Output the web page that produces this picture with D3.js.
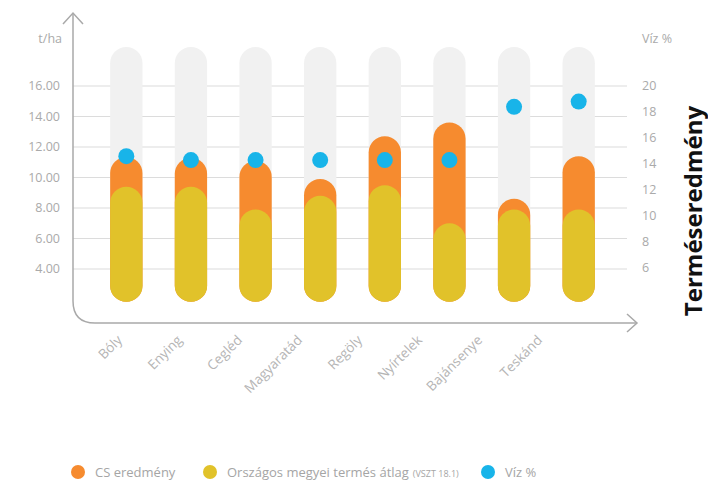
<!DOCTYPE html>
<html>
<head>
<meta charset="utf-8">
<script src="https://cdn.jsdelivr.net/npm/d3@7"></script>
<style>
  body { margin: 0; background: #fff; }
  svg { font-family: "Open Sans", sans-serif; }
  .tick-label { fill: #aaa; font-size: 12.5px; }
  .cat-label { fill: #b5b5b5; font-size: 13.5px; }
  .legend-label { fill: #a5a5a5; font-size: 13px; }
</style>
</head>
<body>
<svg id="chart" width="708" height="480"></svg>
<script>
const categories = ["Bóly", "Enying", "Cegléd", "Magyaratád", "Regöly", "Nyírtelek", "Bajánsenye", "Teskánd"];
const csResult = [11.35, 11.3, 11.1, 9.9, 12.7, 13.6, 8.6, 11.4];
const countyAvg = [9.4, 9.4, 7.9, 8.8, 9.5, 7.0, 7.9, 7.9];
const moisture = [14.6, 14.3, 14.3, 14.3, 14.3, 14.3, 18.4, 18.8];
const leftTicks = [4, 6, 8, 10, 12, 14, 16];
const rightTicks = [6, 8, 10, 12, 14, 16, 18, 20];
const barBase = 1.85;   // pills start a little under the lowest tick
const trackTop = 18.55;

const svg = d3.select("#chart");

const x = d3.scaleBand().domain(categories).range([94, 611]).paddingInner(0.5).paddingOuter(0.25);
const xLabel = d3.scalePoint().domain(categories).range([123, 543]);
const y = d3.scaleLinear().domain([4, 16]).range([269, 86]);
const y2 = d3.scaleLinear().domain([6, 20]).range([268, 86]);

const colors = { cs: "#f68b2f", avg: "#e1c22a", water: "#18b4e9", track: "#f1f1f1", axis: "#a9a9a9" };

// gridlines
svg.append("g").selectAll("line")
    .data(leftTicks)
    .join("line")
    .attr("x1", 73).attr("x2", 627)
    .attr("y1", d => y(d)).attr("y2", d => y(d))
    .attr("stroke", "#dcdcdc").attr("stroke-width", 1.2);

// axes frame with arrows
const axisG = svg.append("g").attr("fill", "none").attr("stroke", colors.axis).attr("stroke-width", 1.5);
axisG.append("path").attr("d", "M73,13 V301 Q73,323 95,323 H636");
axisG.append("path").attr("d", "M63,24 L73,13 L83,24");
axisG.append("path").attr("d", "M627,314 L637,323 L627,332");

// left ticks
svg.append("g").selectAll("text")
    .data(leftTicks)
    .join("text")
    .attr("class", "tick-label")
    .attr("x", 60).attr("y", d => y(d)).attr("dy", "0.35em")
    .attr("text-anchor", "end")
    .text(d => d.toFixed(2));

svg.append("text").attr("class", "tick-label").attr("x", 62).attr("y", 43)
    .attr("text-anchor", "end").text("t/ha");

// right ticks
svg.append("g").selectAll("text")
    .data(rightTicks)
    .join("text")
    .attr("class", "tick-label")
    .attr("x", 642).attr("y", d => y2(d)).attr("dy", "0.35em")
    .text(d => d);

svg.append("text").attr("class", "tick-label").attr("x", 642).attr("y", 43).text("Víz %");

const bw = x.bandwidth();
const pill = (g, values, color) => g.selectAll("rect")
    .data(values)
    .join("rect")
    .attr("x", (d, i) => x(categories[i]))
    .attr("width", bw)
    .attr("y", d => y(d))
    .attr("height", d => y(barBase) - y(d))
    .attr("rx", bw / 2)
    .attr("fill", color);

pill(svg.append("g"), categories.map(() => trackTop), colors.track);
pill(svg.append("g"), csResult, colors.cs);
pill(svg.append("g"), countyAvg, colors.avg);

// moisture dots
svg.append("g").selectAll("circle")
    .data(moisture)
    .join("circle")
    .attr("cx", (d, i) => x(categories[i]) + bw / 2)
    .attr("cy", d => y2(d))
    .attr("r", 8)
    .attr("fill", colors.water);

// category labels
svg.append("g").selectAll("text")
    .data(categories)
    .join("text")
    .attr("class", "cat-label")
    .attr("text-anchor", "end")
    .attr("transform", d => `translate(${xLabel(d)},341) rotate(-45)`)
    .text(d => d);

// vertical title
svg.append("text")
    .attr("transform", "translate(702,211) rotate(-90)")
    .attr("text-anchor", "middle")
    .attr("font-size", 24).attr("font-weight", "bold").attr("fill", "#111")
    .text("Terméseredmény");

// legend
const legend = [
    { label: "CS eredmény", note: "", color: colors.cs, x: 78 },
    { label: "Országos megyei termés átlag", note: "(VSZT 18.1)", color: colors.avg, x: 210 },
    { label: "Víz %", note: "", color: colors.water, x: 488 }
];
const lg = svg.append("g").selectAll("g")
    .data(legend)
    .join("g")
    .attr("transform", d => `translate(${d.x},472)`);
lg.append("circle").attr("r", 7).attr("fill", d => d.color);
const lt = lg.append("text").attr("class", "legend-label").attr("x", 17).attr("dy", "0.36em");
lt.append("tspan").text(d => d.label);
lt.append("tspan").attr("font-size", 9).attr("dx", 4).text(d => d.note);
</script>
</body>
</html>
